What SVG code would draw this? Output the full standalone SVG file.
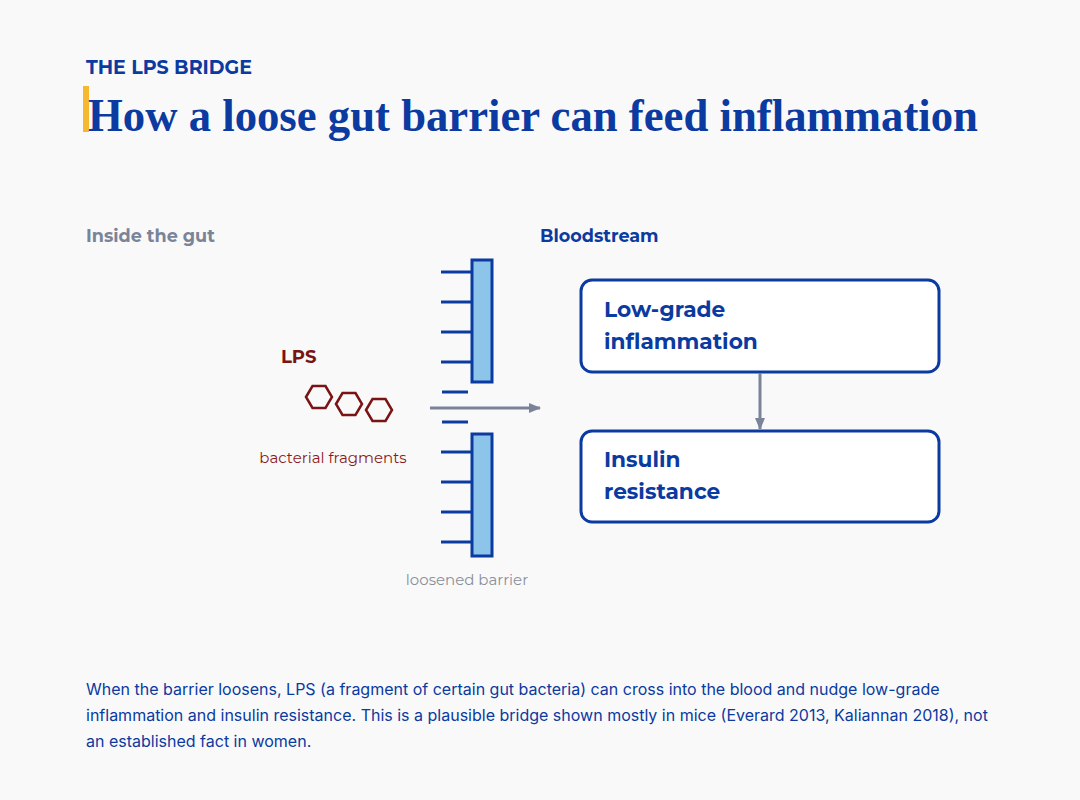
<svg xmlns="http://www.w3.org/2000/svg" width="1080" height="800" viewBox="0 0 1080 800">
<defs>
<style>
.sans{font-family:Montserrat,"Open Sans","Noto Sans",sans-serif}
.body{font-family:Inter,"Noto Sans",sans-serif}
.tick{stroke:#0b3aa0;stroke-width:3}
.hex{fill:none;stroke:#7a1414;stroke-width:2.5}
.box{fill:#ffffff;stroke:#0b3aa0;stroke-width:3}
.boxt{font-family:Montserrat,"Open Sans","Noto Sans",sans-serif;font-weight:700;font-size:21.7px;fill:#0b3aa0}
.bar{fill:#8cc4ea;stroke:#0b3aa0;stroke-width:3}
</style>
<marker id="ah" markerWidth="12" markerHeight="10" refX="11" refY="5" orient="auto" markerUnits="userSpaceOnUse">
<path d="M0,0 L12,5 L0,10 Z" fill="#7a8499"/>
</marker>
</defs>
<rect width="1080" height="800" fill="#f9f9f9"/>
<g id="header">
<text x="86" y="74" class="sans" font-size="19" font-weight="700" fill="#0b3aa0">THE LPS BRIDGE</text>
<rect x="83" y="86" width="6" height="46" fill="#f5b82e"/>
<text x="88" y="131" font-family="'Liberation Serif','DejaVu Serif',serif" font-weight="700" font-size="46" fill="#0b3aa0" textLength="890" lengthAdjust="spacingAndGlyphs">How a loose gut barrier can feed inflammation</text>
</g>
<g id="labels">
<text x="86" y="242" class="sans" font-size="17.6" font-weight="700" fill="#7a8499">Inside the gut</text>
<text x="540" y="242" class="sans" font-size="17.6" font-weight="700" fill="#0b3aa0">Bloodstream</text>
</g>
<g id="barrier">
<rect x="472" y="260" width="20" height="122" class="bar"/>
<rect x="472" y="434" width="20" height="122" class="bar"/>
<line x1="441" y1="272" x2="472" y2="272" class="tick"/>
<line x1="441" y1="302" x2="472" y2="302" class="tick"/>
<line x1="441" y1="332" x2="472" y2="332" class="tick"/>
<line x1="441" y1="362" x2="472" y2="362" class="tick"/>
<line x1="442" y1="392" x2="468" y2="392" class="tick"/>
<line x1="442" y1="422" x2="468" y2="422" class="tick"/>
<line x1="441" y1="452" x2="472" y2="452" class="tick"/>
<line x1="441" y1="482" x2="472" y2="482" class="tick"/>
<line x1="441" y1="512" x2="472" y2="512" class="tick"/>
<line x1="441" y1="542" x2="472" y2="542" class="tick"/>
<text x="467" y="585" text-anchor="middle" class="sans" font-size="15" fill="#8a8f9a">loosened barrier</text>
</g>
<g id="lps">
<text x="281" y="363" class="sans" font-size="18" font-weight="700" fill="#7a1414">LPS</text>
<polygon class="hex" points="306,397 312.5,386 325.5,386 332,397 325.5,408 312.5,408"/>
<polygon class="hex" points="336,404 342.5,393 355.5,393 362,404 355.5,415 342.5,415"/>
<polygon class="hex" points="366,410 372.5,399 385.5,399 392,410 385.5,421 372.5,421"/>
<text x="333" y="463" text-anchor="middle" class="sans" font-size="15" fill="#8b1a1a">bacterial fragments</text>
</g>
<g id="inflammation">
<rect x="581" y="280" width="358" height="92" rx="11" class="box"/>
<text x="604" y="317" class="boxt">Low-grade</text>
<text x="604" y="349" class="boxt">inflammation</text>
</g>
<g id="insulin">
<rect x="581" y="431" width="358" height="91" rx="11" class="box"/>
<text x="604" y="467" class="boxt">Insulin</text>
<text x="604" y="499" class="boxt">resistance</text>
</g>
<g id="connectors">
<line x1="430" y1="408" x2="540" y2="408" stroke="#7a8499" stroke-width="3" marker-end="url(#ah)"/>
<line x1="760" y1="373" x2="760" y2="429" stroke="#7a8499" stroke-width="3" marker-end="url(#ah)"/>
</g>
<g id="caption" class="body" font-size="16" fill="#0b3aa0">
<text x="86" y="695">When the barrier loosens, LPS (a fragment of certain gut bacteria) can cross into the blood and nudge low-grade</text>
<text x="86" y="721">inflammation and insulin resistance. This is a plausible bridge shown mostly in mice (Everard 2013, Kaliannan 2018), not</text>
<text x="86" y="747">an established fact in women.</text>
</g>
</svg>
